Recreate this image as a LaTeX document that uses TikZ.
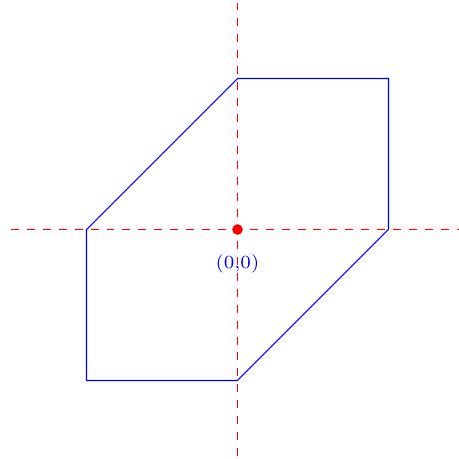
\documentclass[tikz,border=0pt]{standalone}
\usepackage{tikz}
\usetikzlibrary{positioning}

\tikzset{axisline/.style={red,dashed}}

\begin{document}
\begin{tikzpicture}[x=2cm,y=2cm]
  \useasboundingbox (-1.573,-1.519) rectangle (1.467,1.520);
  % dashed axes through the origin, -3cm .. 3cm
  \coordinate (xstart) at (-1.5,0);
  \coordinate (xend) at (1.5,0);
  \coordinate (ystart) at (0,-1.5);
  \coordinate (yend) at (0,1.5);
  \draw[axisline] (xstart) -- (xend);
  \draw[axisline] (ystart) -- (yend);
  % hexagon corners, unit = 1
  \coordinate (top) at (0,1);
  \coordinate (topright) at (1,1);
  \coordinate (right) at (1,0);
  \coordinate (bottom) at (0,-1);
  \coordinate (bottomleft) at (-1,-1);
  \coordinate (left) at (-1,0);
  \draw[blue] (top) -- (topright) -- (right) -- (bottom) -- (bottomleft) -- (left) -- cycle;
  \coordinate (origin) at (0,0);
  \fill[red] (origin) circle (2pt);
  \node[blue,font=\scriptsize,below=6pt of origin] (lbl) {(0,0)};
\end{tikzpicture}
\end{document}
